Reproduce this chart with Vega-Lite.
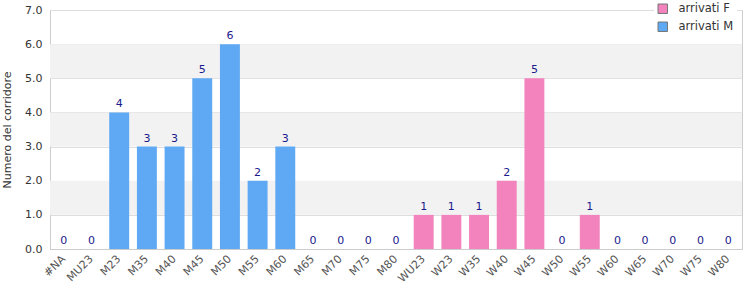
{
  "$schema": "https://vega.github.io/schema/vega-lite/v6.json",
  "autosize": "none",
  "width": 692,
  "height": 239,
  "padding": {"left": 50, "top": 10, "right": 8, "bottom": 51},
  "background": "white",
  "config": {
    "font": "DejaVu Sans",
    "view": {"stroke": "#cccccc", "strokeWidth": 1},
    "axisY": {
      "titleFontWeight": "normal", "titleFontSize": 11, "titleColor": "#333333", "titlePadding": 12,
      "labelFontSize": 11, "labelColor": "#333333", "ticks": false, "domain": false,
      "gridColor": "#dddddd", "labelPadding": 8, "labelOverlap": false
    }
  },
  "datasets": {
    "bars": [
      {"cat": "#NA", "n": 0, "serie": "arrivati M"},
      {"cat": "MU23", "n": 0, "serie": "arrivati M"},
      {"cat": "M23", "n": 4, "serie": "arrivati M"},
      {"cat": "M35", "n": 3, "serie": "arrivati M"},
      {"cat": "M40", "n": 3, "serie": "arrivati M"},
      {"cat": "M45", "n": 5, "serie": "arrivati M"},
      {"cat": "M50", "n": 6, "serie": "arrivati M"},
      {"cat": "M55", "n": 2, "serie": "arrivati M"},
      {"cat": "M60", "n": 3, "serie": "arrivati M"},
      {"cat": "M65", "n": 0, "serie": "arrivati M"},
      {"cat": "M70", "n": 0, "serie": "arrivati M"},
      {"cat": "M75", "n": 0, "serie": "arrivati M"},
      {"cat": "M80", "n": 0, "serie": "arrivati M"},
      {"cat": "WU23", "n": 1, "serie": "arrivati F"},
      {"cat": "W23", "n": 1, "serie": "arrivati F"},
      {"cat": "W35", "n": 1, "serie": "arrivati F"},
      {"cat": "W40", "n": 2, "serie": "arrivati F"},
      {"cat": "W45", "n": 5, "serie": "arrivati F"},
      {"cat": "W50", "n": 0, "serie": "arrivati F"},
      {"cat": "W55", "n": 1, "serie": "arrivati F"},
      {"cat": "W60", "n": 0, "serie": "arrivati F"},
      {"cat": "W65", "n": 0, "serie": "arrivati F"},
      {"cat": "W70", "n": 0, "serie": "arrivati F"},
      {"cat": "W75", "n": 0, "serie": "arrivati F"},
      {"cat": "W80", "n": 0, "serie": "arrivati F"}
    ],
    "bands": [
      {"y0": 1, "y1": 2},
      {"y0": 3, "y1": 4},
      {"y0": 5, "y1": 6}
    ]
  },
  "layer": [
    {
      "data": {"name": "bands"},
      "mark": {"type": "rect", "color": "#f2f2f2"},
      "encoding": {
        "y": {
          "field": "y0", "type": "quantitative",
          "scale": {"domain": [0, 7], "nice": false},
          "axis": {"title": "Numero del corridore", "format": ".1f", "values": [0, 1, 2, 3, 4, 5, 6, 7]}
        },
        "y2": {"field": "y1"}
      }
    },
    {
      "data": {"name": "bars"},
      "mark": {"type": "bar"},
      "encoding": {
        "x": {
          "field": "cat", "type": "nominal", "sort": null,
          "scale": {"paddingInner": 0.28, "paddingOuter": 0.14},
          "axis": {
            "title": null, "labelAngle": -45, "labelAlign": "right", "labelBaseline": "middle",
            "labelFontSize": 11, "labelColor": "#555555", "ticks": false,
            "domainColor": "#cccccc", "labelPadding": 8
          }
        },
        "y": {
          "field": "n", "type": "quantitative",
          "scale": {"domain": [0, 7], "nice": false},
          "axis": {"title": "Numero del corridore", "format": ".1f", "values": [0, 1, 2, 3, 4, 5, 6, 7]}
        },
        "color": {
          "field": "serie", "type": "nominal",
          "scale": {"domain": ["arrivati F", "arrivati M"], "range": ["#f283bd", "#5fa8f3"]},
          "legend": {
            "title": null, "orient": "none", "legendX": 604, "legendY": -10,
            "fillColor": "white", "padding": 3, "symbolType": "square", "symbolSize": 90,
            "symbolStrokeColor": "#777777", "symbolStrokeWidth": 1,
            "labelFontSize": 11.5, "labelColor": "#333333", "rowPadding": 4, "labelOffset": 10
          }
        }
      }
    },
    {
      "data": {"name": "bars"},
      "mark": {"type": "text", "dy": -8, "fontSize": 11, "color": "#1a1a8c"},
      "encoding": {
        "x": {
          "field": "cat", "type": "nominal", "sort": null,
          "axis": {
            "title": null, "labelAngle": -45, "labelAlign": "right", "labelBaseline": "middle",
            "labelFontSize": 11, "labelColor": "#555555", "ticks": false,
            "domainColor": "#cccccc", "labelPadding": 8
          }
        },
        "y": {
          "field": "n", "type": "quantitative",
          "axis": {"title": "Numero del corridore", "format": ".1f", "values": [0, 1, 2, 3, 4, 5, 6, 7]}
        },
        "text": {"field": "n", "type": "quantitative"}
      }
    }
  ]
}
